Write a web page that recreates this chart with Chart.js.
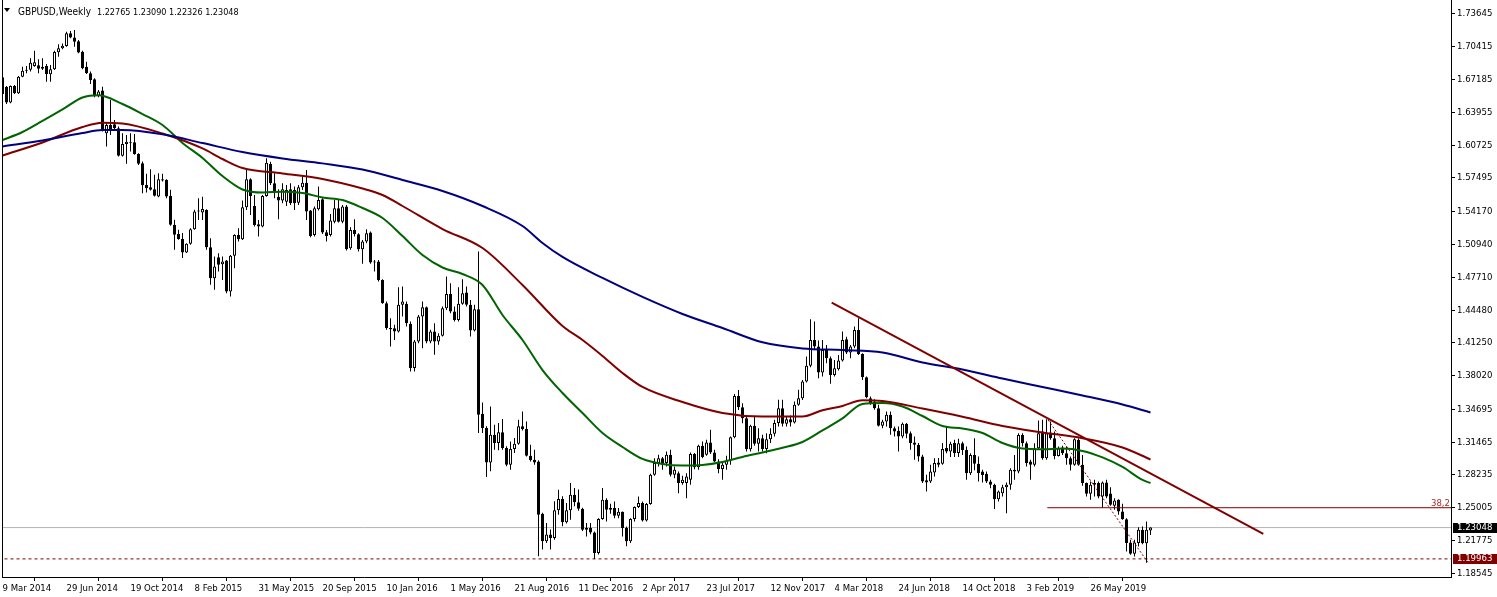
<!DOCTYPE html>
<html>
<head>
<meta charset="utf-8">
<script src="https://cdn.jsdelivr.net/npm/chart.js@4.4.1/dist/chart.umd.min.js"></script>
<style>
html, body { margin: 0; padding: 0; background: #fff; }
canvas { display: block; }
</style>
</head>
<body>
<canvas id="chart" width="1497" height="597"></canvas>
<script>
// GBPUSD weekly candles, bar 0 = week of 9 Mar 2014
const opens = [
  1.6741,1.6649,1.6492,1.6656,1.6583,1.6747,1.6806,1.6815,1.6852,1.6859,
  1.6846,1.6852,1.6770,1.6820,1.6987,1.7026,1.7049,1.7174,1.7134,1.7095,
  1.6993,1.6846,1.6780,1.6721,1.6557,1.6610,1.6190,1.6272,1.6278,1.6239,
  1.5967,1.6085,1.6101,1.6101,1.5986,1.5895,1.5681,1.5658,1.5639,1.5567,
  1.5737,1.5731,1.5573,1.5288,1.5196,1.5147,1.5016,1.5101,1.5245,1.5419,
  1.5408,1.5434,1.5067,1.4762,1.4968,1.4899,1.4936,1.4631,1.4982,1.5188,
  1.5146,1.5460,1.5736,1.5474,1.5293,1.5270,1.5572,1.5887,1.5697,1.5565,
  1.5526,1.5516,1.5638,1.5631,1.5506,1.5657,1.5703,1.5428,1.5188,1.5441,
  1.5539,1.5214,1.5188,1.5319,1.5451,1.5319,1.5467,1.5057,1.5237,1.5195,
  1.5047,1.5123,1.5211,1.4916,1.4926,1.4745,1.4516,1.4270,1.4269,1.4236,
  1.4499,1.4509,1.4312,1.3876,1.4138,1.4384,1.4476,1.4138,1.4236,1.4138,
  1.4194,1.4466,1.4607,1.4433,1.4351,1.4509,1.4620,1.4499,1.4246,1.4456,
  1.3426,1.3285,1.2947,1.3220,1.3138,1.3243,1.3088,1.2924,1.3079,1.3131,
  1.3302,1.3275,1.3013,1.2974,1.2957,1.2442,1.2170,1.2236,1.2203,1.2475,
  1.2587,1.2357,1.2475,1.2629,1.2554,1.2490,1.2284,1.2300,1.2257,1.2054,
  1.2389,1.2579,1.2480,1.2497,1.2421,1.2461,1.2300,1.2169,1.2389,1.2507,
  1.2546,1.2375,1.2536,1.2825,1.2940,1.2989,1.2940,1.3022,1.2825,1.2841,
  1.2743,1.2743,1.2776,1.3031,1.2900,1.3110,1.3022,1.3143,1.3045,1.2956,
  1.2881,1.2923,1.2966,1.3195,1.3602,1.3491,1.3382,1.3077,1.3307,1.3130,
  1.3186,1.3078,1.3176,1.3229,1.3334,1.3481,1.3327,1.3373,1.3340,1.3514,
  1.3580,1.3744,1.3898,1.4154,1.4088,1.3832,1.4055,1.3973,1.3809,1.3865,
  1.3950,1.4160,1.4029,1.4088,1.4252,1.4016,1.3786,1.3580,1.3547,1.3481,
  1.3307,1.3350,1.3416,1.3284,1.3260,1.3202,1.3327,1.3235,1.3143,1.3120,
  1.3006,1.2770,1.2760,1.2848,1.2947,1.2933,1.3088,1.3055,1.3137,1.3040,
  1.3136,1.3070,1.2841,1.3021,1.2933,1.2857,1.2834,1.2759,1.2726,1.2585,
  1.2644,1.2703,1.2726,1.2874,1.2857,1.3218,1.3136,1.2956,1.2923,1.3087,
  1.3251,1.2988,1.3241,1.3185,1.3011,1.3093,1.3038,1.2988,1.2923,1.3169,
  1.2923,1.2743,1.2637,1.2726,1.2743,1.2611,1.2749,1.2640,1.2519,1.2578,
  1.2464,1.2388,1.2159,1.2047,1.2152,1.2283,1.2150,1.22765
];
const highs = [
  1.6754,1.6656,1.6660,1.6665,1.6754,1.6846,1.6852,1.6928,1.7003,1.6918,
  1.6928,1.6872,1.6862,1.7003,1.7066,1.7075,1.7190,1.7197,1.7207,1.7108,
  1.7003,1.6895,1.6797,1.6731,1.6616,1.6649,1.6295,1.6518,1.6321,1.6255,
  1.6190,1.6173,1.6190,1.6183,1.5993,1.5911,1.5790,1.5836,1.5780,1.5796,
  1.5790,1.5737,1.5632,1.5337,1.5238,1.5206,1.5107,1.5255,1.5435,1.5549,
  1.5565,1.5441,1.5155,1.4975,1.5008,1.4975,1.4942,1.4991,1.5195,1.5254,
  1.5526,1.5828,1.5746,1.5582,1.5336,1.5582,1.5943,1.5910,1.5795,1.5638,
  1.5697,1.5680,1.5697,1.5664,1.5680,1.5779,1.5828,1.5434,1.5467,1.5664,
  1.5549,1.5237,1.5395,1.5533,1.5533,1.5483,1.5483,1.5264,1.5342,1.5205,
  1.5139,1.5244,1.5221,1.4942,1.4942,1.4752,1.4532,1.4368,1.4302,1.4673,
  1.4679,1.4532,1.4335,1.4154,1.4400,1.4532,1.4482,1.4253,1.4318,1.4220,
  1.4482,1.4778,1.4712,1.4482,1.4673,1.4751,1.4679,1.4548,1.4499,1.5024,
  1.3538,1.3302,1.3498,1.3318,1.3334,1.3374,1.3105,1.3154,1.3187,1.3367,
  1.3449,1.3351,1.3121,1.3072,1.2967,1.2450,1.2350,1.2285,1.2564,1.2678,
  1.2613,1.2547,1.2744,1.2695,1.2680,1.2500,1.2349,1.2349,1.2267,1.2398,
  1.2694,1.2595,1.2540,1.2562,1.2497,1.2464,1.2316,1.2398,1.2513,1.2612,
  1.2562,1.2546,1.2835,1.2989,1.3022,1.2999,1.3054,1.3071,1.2907,1.2858,
  1.2815,1.2841,1.3045,1.3040,1.3120,1.3153,1.3169,1.3268,1.3071,1.2979,
  1.2940,1.3012,1.3202,1.3622,1.3661,1.3530,1.3399,1.3317,1.3399,1.3284,
  1.3219,1.3235,1.3284,1.3366,1.3563,1.3563,1.3399,1.3410,1.3547,1.3662,
  1.3760,1.3990,1.4357,1.4334,1.4147,1.4154,1.4104,1.3990,1.3957,1.4006,
  1.4236,1.4186,1.4104,1.4285,1.4367,1.4022,1.3793,1.3596,1.3570,1.3514,
  1.3366,1.3448,1.3448,1.3301,1.3301,1.3340,1.3334,1.3252,1.3202,1.3137,
  1.3022,1.2825,1.2924,1.2989,1.2990,1.3137,1.3301,1.3150,1.3170,1.3180,
  1.3150,1.3103,1.3038,1.3185,1.3005,1.2874,1.2857,1.2775,1.2736,1.2670,
  1.2726,1.2749,1.2890,1.3021,1.3234,1.3234,1.3152,1.2972,1.3136,1.3359,
  1.3366,1.3372,1.3349,1.3251,1.3103,1.3110,1.3103,1.3005,1.3185,1.3185,
  1.3021,1.2749,1.2759,1.2775,1.2760,1.2760,1.2775,1.2703,1.2595,1.2585,
  1.2539,1.2398,1.2185,1.2185,1.2309,1.2316,1.2365,1.23090
];
const lows = [
  1.6557,1.6478,1.6485,1.6577,1.6577,1.6741,1.6780,1.6797,1.6846,1.6780,
  1.6813,1.6698,1.6698,1.6813,1.6944,1.7016,1.7043,1.7125,1.7043,1.6977,
  1.6820,1.6774,1.6675,1.6544,1.6544,1.6206,1.6059,1.6173,1.6229,1.5960,
  1.5960,1.5888,1.6009,1.5977,1.5878,1.5599,1.5606,1.5626,1.5567,1.5560,
  1.5714,1.5550,1.5278,1.5042,1.5140,1.4960,1.5009,1.5091,1.5238,1.5336,
  1.5336,1.5041,1.4696,1.4647,1.4827,1.4745,1.4614,1.4581,1.4860,1.5123,
  1.5139,1.5434,1.5385,1.5270,1.5172,1.5264,1.5565,1.5680,1.5549,1.5342,
  1.5500,1.5474,1.5483,1.5434,1.5483,1.5631,1.5336,1.5165,1.5172,1.5428,
  1.5198,1.5123,1.5172,1.5303,1.5310,1.5303,1.5034,1.5041,1.5172,1.5024,
  1.4903,1.5106,1.4903,1.4827,1.4729,1.4509,1.4253,1.4089,1.4154,1.4227,
  1.4384,1.4286,1.3843,1.3843,1.4122,1.4072,1.4122,1.4122,1.4007,1.4105,
  1.4187,1.4449,1.4417,1.4335,1.4335,1.4499,1.4482,1.4187,1.4236,1.3236,
  1.3236,1.2803,1.2859,1.3072,1.3066,1.3072,1.2908,1.2875,1.3039,1.3121,
  1.3262,1.3006,1.2957,1.2924,1.2022,1.2088,1.2154,1.2088,1.2186,1.2432,
  1.2318,1.2344,1.2383,1.2514,1.2470,1.2270,1.2218,1.2240,1.1996,1.2040,
  1.2382,1.2366,1.2440,1.2398,1.2398,1.2218,1.2120,1.2152,1.2366,1.2497,
  1.2366,1.2366,1.2530,1.2815,1.2907,1.2874,1.2907,1.2808,1.2792,1.2644,
  1.2726,1.2595,1.2726,1.2880,1.2874,1.2989,1.3012,1.3031,1.2950,1.2841,
  1.2776,1.2874,1.2923,1.3186,1.3464,1.3333,1.3054,1.3054,1.3110,1.3054,
  1.3055,1.3038,1.3137,1.3202,1.3301,1.3301,1.3301,1.3300,1.3330,1.3504,
  1.3563,1.3734,1.3885,1.4055,1.3776,1.3793,1.3924,1.3721,1.3793,1.3852,
  1.3940,1.4016,1.3973,1.4072,1.4006,1.3760,1.3580,1.3514,1.3465,1.3301,
  1.3284,1.3301,1.3219,1.3202,1.3055,1.3186,1.3186,1.3071,1.2973,1.2956,
  1.2743,1.2661,1.2743,1.2809,1.2900,1.2924,1.3038,1.3000,1.3000,1.3000,
  1.3021,1.2775,1.2824,1.2870,1.2759,1.2749,1.2743,1.2693,1.2487,1.2562,
  1.2611,1.2447,1.2677,1.2775,1.2841,1.3103,1.2906,1.2775,1.2906,1.3070,
  1.2972,1.2972,1.3169,1.2979,1.3005,1.3021,1.2923,1.2867,1.2913,1.2913,
  1.2716,1.2611,1.2578,1.2611,1.2595,1.2500,1.2595,1.2519,1.2480,1.2431,
  1.2382,1.2070,1.2037,1.2021,1.2119,1.2140,1.1959,1.22326
];
const closes = [
  1.6577,1.6492,1.6656,1.6583,1.6747,1.6806,1.6815,1.6885,1.6888,1.6826,
  1.6826,1.6774,1.6820,1.6990,1.7026,1.7052,1.7174,1.7134,1.7092,1.6984,
  1.6829,1.6780,1.6715,1.6557,1.6600,1.6223,1.6272,1.6223,1.6239,1.5967,
  1.6085,1.6105,1.6091,1.5986,1.5888,1.5678,1.5649,1.5632,1.5573,1.5737,
  1.5724,1.5567,1.5288,1.5189,1.5147,1.5016,1.5101,1.5245,1.5419,1.5428,
  1.5444,1.5067,1.4762,1.4877,1.4893,1.4926,1.4631,1.4982,1.5188,1.5146,
  1.5460,1.5736,1.5572,1.5287,1.5270,1.5572,1.5900,1.5697,1.5605,1.5526,
  1.5638,1.5631,1.5500,1.5500,1.5657,1.5703,1.5418,1.5178,1.5451,1.5533,
  1.5211,1.5178,1.5329,1.5451,1.5319,1.5467,1.5047,1.5237,1.5198,1.5047,
  1.5123,1.5205,1.4916,1.4926,1.4745,1.4516,1.4270,1.4259,1.4236,1.4499,
  1.4532,1.4318,1.3876,1.4138,1.4384,1.4476,1.4138,1.4236,1.4138,1.4194,
  1.4466,1.4607,1.4433,1.4351,1.4509,1.4614,1.4499,1.4246,1.4456,1.3416,
  1.3285,1.2947,1.3220,1.3138,1.3243,1.3088,1.2924,1.3079,1.3131,1.3302,
  1.3275,1.3013,1.2967,1.2947,1.2432,1.2170,1.2236,1.2203,1.2475,1.2587,
  1.2357,1.2475,1.2629,1.2554,1.2490,1.2284,1.2300,1.2257,1.2054,1.2389,
  1.2579,1.2480,1.2497,1.2421,1.2461,1.2300,1.2169,1.2389,1.2507,1.2546,
  1.2375,1.2536,1.2825,1.2940,1.2989,1.2923,1.3022,1.2825,1.2874,1.2743,
  1.2776,1.2808,1.3031,1.2900,1.3110,1.2999,1.3143,1.3045,1.2956,1.2881,
  1.2923,1.2966,1.3195,1.3602,1.3491,1.3382,1.3077,1.3307,1.3130,1.3186,
  1.3078,1.3176,1.3229,1.3334,1.3481,1.3327,1.3373,1.3340,1.3514,1.3580,
  1.3744,1.3898,1.4154,1.4088,1.3832,1.4055,1.3973,1.3809,1.3875,1.3950,
  1.4154,1.4029,1.4088,1.4252,1.4016,1.3786,1.3590,1.3530,1.3481,1.3307,
  1.3350,1.3416,1.3284,1.3252,1.3202,1.3327,1.3229,1.3137,1.3120,1.3006,
  1.2760,1.2750,1.2858,1.2940,1.2924,1.3078,1.3055,1.3130,1.3038,1.3136,
  1.3070,1.2841,1.3021,1.2933,1.2841,1.2824,1.2759,1.2726,1.2585,1.2660,
  1.2703,1.2726,1.2874,1.2857,1.3218,1.3136,1.2939,1.2923,1.3087,1.3234,
  1.2988,1.3234,1.3185,1.3011,1.3087,1.3038,1.2988,1.2923,1.3175,1.2923,
  1.2743,1.2637,1.2726,1.2743,1.2611,1.2749,1.2611,1.2529,1.2572,1.2464,
  1.2388,1.2152,1.2047,1.2159,1.2283,1.2150,1.2283,1.23048
];

// date labels, one every 16 bars
const dateTickIdx = [0,16,32,48,64,80,96,112,128,144,160,176,192,208,224,240,256,272];
const dateLabels = ['9 Mar 2014','29 Jun 2014','19 Oct 2014','8 Feb 2015','31 May 2015','20 Sep 2015',
  '10 Jan 2016','1 May 2016','21 Aug 2016','11 Dec 2016','2 Apr 2017','23 Jul 2017',
  '12 Nov 2017','4 Mar 2018','24 Jun 2018','14 Oct 2018','3 Feb 2019','26 May 2019'];

// price scale labels
const priceTicks = [1.73645,1.70415,1.67185,1.63955,1.60725,1.57495,1.54170,1.50940,1.47710,
  1.44480,1.41250,1.38020,1.34695,1.31465,1.28235,1.25005,1.21775,1.18545];

// moving averages: [bar, price]
const greenMA = [[0,1.6123],[5,1.6202],[10,1.6311],[15,1.6424],[20,1.6542],[24,1.6565],[30,1.6478],
  [35,1.6379],[40,1.6271],[45,1.6094],[50,1.5946],[55,1.5768],[60,1.5636],[65,1.5606],[70,1.5614],
  [75,1.5601],[80,1.5557],[85,1.5532],[90,1.5453],[95,1.5355],[100,1.5177],[105,1.4990],[110,1.4867],
  [115,1.4803],[120,1.4695],[125,1.4399],[130,1.4153],[135,1.3857],[140,1.3631],[145,1.3434],
  [150,1.3237],[155,1.3099],[160,1.2981],[165,1.2932],[170,1.2917],[175,1.2922],[180,1.2951],
  [185,1.3001],[190,1.3045],[195,1.3091],[200,1.3148],[205,1.3262],[210,1.3380],[215,1.3523],
  [220,1.3532],[225,1.3498],[230,1.3404],[235,1.3306],[240,1.3281],[245,1.3237],[250,1.3138],
  [255,1.3084],[260,1.3076],[265,1.3083],[270,1.3060],[275,1.2996],[280,1.2902],[285,1.2774],[287,1.2744]];
const maroonMA = [[0,1.5971],[10,1.6099],[20,1.6251],[25,1.6293],[30,1.6286],[40,1.6187],[50,1.6040],
  [55,1.5936],[60,1.5847],[70,1.5794],[80,1.5739],[90,1.5645],[95,1.5581],[100,1.5473],[110,1.5246],
  [120,1.5059],[130,1.4695],[140,1.4291],[145,1.4153],[150,1.3996],[155,1.3828],[160,1.3690],
  [170,1.3542],[180,1.3434],[190,1.3398],[200,1.3399],[205,1.3461],[210,1.3503],[215,1.3560],
  [220,1.3552],[230,1.3478],[240,1.3397],[250,1.3306],[260,1.3242],[270,1.3185],[280,1.3094],[287,1.2976]];
const navyMA = [[0,1.6059],[10,1.6118],[20,1.6192],[25,1.6221],[30,1.6221],[40,1.6179],[50,1.6093],
  [60,1.6005],[70,1.5942],[80,1.5893],[90,1.5832],[100,1.5729],[110,1.5621],[120,1.5473],[130,1.5276],
  [135,1.5109],[140,1.4971],[150,1.4764],[160,1.4577],[170,1.4409],[180,1.4271],[190,1.4130],
  [200,1.4070],[210,1.4054],[220,1.4030],[230,1.3931],[240,1.3862],[250,1.3774],[260,1.3690],
  [270,1.3606],[280,1.3518],[287,1.3439]];

// drawn objects
const trendLine = [[207.3,1.4521],[315.2,1.2242]];
const fiboLine = [[261.4,1.3365],[286.3,1.1964]];
const fiboLevel = 1.25005;
const lastPrice = 1.23048;
const lowLevel = 1.19963;

const FONT = "'DejaVu Sans Condensed', 'DejaVu Sans', sans-serif";
Chart.defaults.font.family = FONT;
Chart.defaults.font.size = 9.5;
Chart.defaults.color = '#000';

const bars = closes.map((c, i) => i);

function line(pts, color, width, dash, order) {
    return {
        type: 'line',
        data: pts.map(p => ({ x: p[0], y: p[1] })),
        borderColor: color,
        borderWidth: width,
        borderDash: dash || [],
        pointRadius: 0,
        cubicInterpolationMode: 'monotone',
        order: order
    };
}

// extra things drawn on top: frame, title, price boxes, fibo text
const decor = {
    id: 'decor',
    afterDraw(chart) {
        const { ctx, chartArea: a } = chart;
        const y = chart.scales.y;
        ctx.save();
        ctx.fillStyle = '#000';
        ctx.fillRect(a.left, 0, 1, a.bottom);

        // title
        ctx.beginPath();
        ctx.moveTo(4, 8); ctx.lineTo(10, 8); ctx.lineTo(7, 12); ctx.closePath();
        ctx.fill();
        ctx.textBaseline = 'alphabetic';
        ctx.textAlign = 'left';
        ctx.font = '10px ' + FONT;
        ctx.fillText('GBPUSD,Weekly', 18, 15);
        ctx.font = '9px ' + FONT;
        ctx.fillText('1.22765 1.23090 1.22326 1.23048', 97, 15);

        // price boxes on the axis
        function box(v, bg) {
            const py = Math.round(y.getPixelForValue(v));
            ctx.fillStyle = bg;
            ctx.fillRect(a.right + 2, py - 5, 44, 10);
            ctx.fillStyle = '#fff';
            ctx.textBaseline = 'middle';
            ctx.font = '9.5px ' + FONT;
            ctx.fillText(v.toFixed(5), a.right + 6, py);
        }
        box(lastPrice, '#000');
        box(lowLevel, '#800000');

        ctx.fillStyle = '#a52a2a';
        ctx.textAlign = 'right';
        ctx.textBaseline = 'alphabetic';
        ctx.fillText('38,2', a.right - 1, y.getPixelForValue(fiboLevel) - 2);
        ctx.restore();
    }
};

new Chart(document.getElementById('chart'), {
    type: 'bar',
    data: {
        datasets: [
            line([[-1, lastPrice], [400, lastPrice]], '#b4b4b4', 1, null, 9),
            line([[-1, lowLevel], [400, lowLevel]], '#800000', 1, [3, 3], 9),
            {
                type: 'bar',
                data: bars.map(i => ({ x: i, y: [lows[i], highs[i]] })),
                backgroundColor: '#000',
                barThickness: 1,
                grouped: false,
                inflateAmount: 0,
                order: 8
            },
            {
                type: 'bar',
                data: bars.map(i => ({ x: i, y: [opens[i], closes[i]] })),
                backgroundColor: bars.map(i => closes[i] >= opens[i] ? '#fff' : '#000'),
                borderColor: '#000',
                borderWidth: 1,
                borderSkipped: false,
                inflateAmount: 0,
                minBarLength: 1,
                barThickness: 3,
                grouped: false,
                order: 7
            },
            line(navyMA, '#000080', 2, null, 3),
            line(maroonMA, '#800000', 2, null, 3),
            line(greenMA, '#006400', 2, null, 3),
            line(trendLine, '#800000', 2, null, 1),
            line(fiboLine, '#800000', 1, [2, 2], 1),
            line([[261.2, fiboLevel], [400, fiboLevel]], '#800000', 1, null, 1)
        ]
    },
    options: {
        responsive: false,
        animation: false,
        devicePixelRatio: 1,
        layout: { padding: { left: 2, top: 0, right: 0, bottom: 0 } },
        plugins: { legend: { display: false }, tooltip: { enabled: false } },
        scales: {
            x: {
                type: 'linear',
                min: -0.125,
                max: 362.125,
                offset: false,
                grid: { drawOnChartArea: false, drawTicks: true, tickLength: 4, color: '#000' },
                border: { display: true, color: '#000' },
                ticks: {
                    autoSkip: false, maxRotation: 0, align: 'start', padding: 2,
                    callback: (v, i) => dateLabels[i]
                },
                afterBuildTicks: s => { s.ticks = dateTickIdx.map(v => ({ value: v })); },
                afterFit: s => { s.height = 20; s.paddingLeft = 0; s.paddingRight = 0; }
            },
            y: {
                type: 'linear',
                position: 'right',
                min: 1.181803,
                max: 1.750242,
                grid: { drawOnChartArea: false, drawTicks: true, tickLength: 4, color: '#000' },
                border: { display: true, color: '#000' },
                ticks: { padding: 2, callback: v => v.toFixed(5) },
                afterBuildTicks: s => { s.ticks = priceTicks.map(v => ({ value: v })); },
                afterFit: s => { s.width = 46; s.paddingTop = 0; s.paddingBottom = 0; }
            }
        }
    },
    plugins: [decor]
});
</script>
</body>
</html>
